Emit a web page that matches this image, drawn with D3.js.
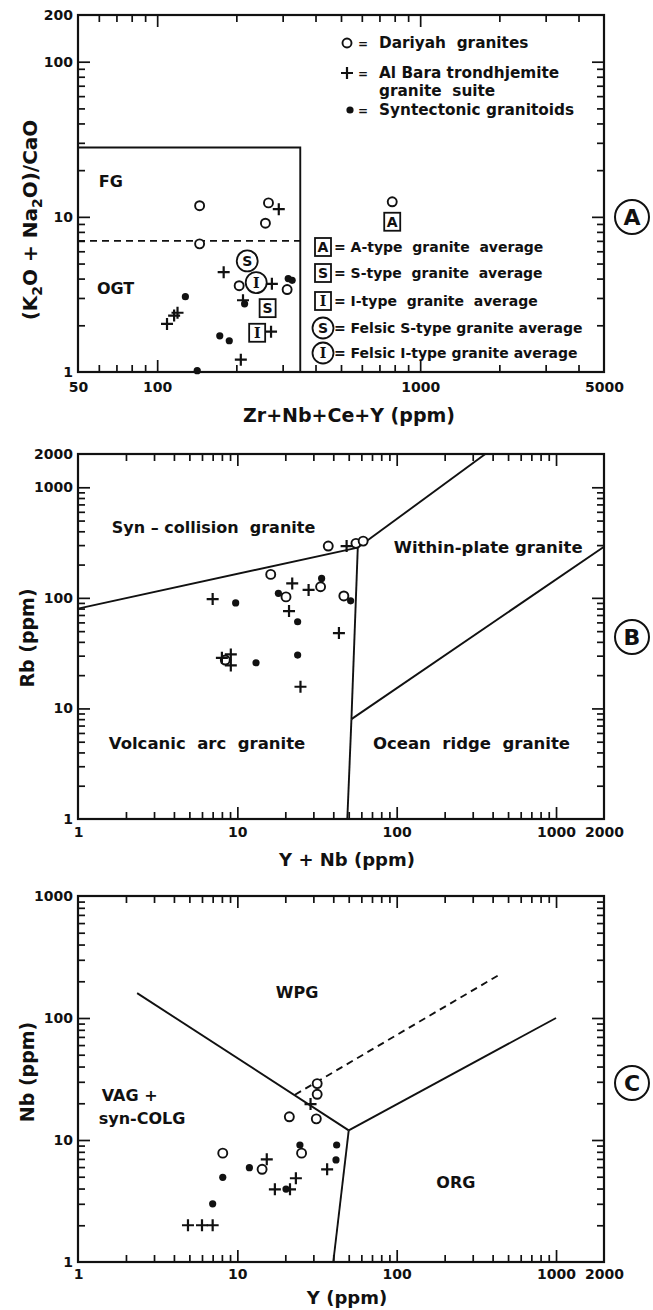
<!DOCTYPE html>
<html>
<head>
<meta charset="utf-8">
<script src="https://cdn.jsdelivr.net/npm/d3@7"></script>
<style>
  body { margin: 0; background: #fff; }
  svg { display: block; }
  text { font-family: "DejaVu Sans", sans-serif; font-weight: bold; fill: #111; }
</style>
</head>
<body>
<div id="chart"></div>
<script>
// ---- Panel A: (K2O+Na2O)/CaO vs Zr+Nb+Ce+Y (ppm) ----
const aDariyah = [[145, 11.8], [145, 6.7], [265, 12.3], [258, 9.1], [205, 3.6], [312, 3.4], [783, 12.5]];
const aAlBara = [[290, 11.2], [179, 4.4], [273, 3.7], [212, 2.9], [109, 2.04], [116, 2.31], [119.5, 2.41], [271, 1.82], [208, 1.2]];
const aSyntectonic = [[128, 3.06], [215, 2.75], [173, 1.71], [188, 1.59], [142, 1.02], [315, 4.0], [326, 3.9]];
const aAverages = [
  { letter: 'A', shape: 'box', x: 783, y: 9.3 },
  { letter: 'S', shape: 'ring', x: 220, y: 5.2 },
  { letter: 'I', shape: 'ring', x: 238, y: 3.77 },
  { letter: 'S', shape: 'box', x: 263, y: 2.58 },
  { letter: 'I', shape: 'box', x: 240, y: 1.79 }
];
const aFieldBox = [[50, 28], [350, 28], [350, 1]];
const aFgOgt = [[50, 7], [350, 7]];
const aXDomain = [50, 5000], aYDomain = [1, 200];
const aXLabels = [50, 100, 1000, 5000], aYLabels = [1, 10, 100, 200];

const legendSeries = ['Dariyah  granites', 'Al Bara trondhjemite|granite  suite', 'Syntectonic granitoids'];
const legendAverages = [
  { letter: 'A', shape: 'box', text: '= A-type  granite  average' },
  { letter: 'S', shape: 'box', text: '= S-type  granite  average' },
  { letter: 'I', shape: 'box', text: '= I-type  granite  average' },
  { letter: 'S', shape: 'ring', text: '= Felsic S-type granite average' },
  { letter: 'I', shape: 'ring', text: '= Felsic I-type granite average' }
];

// ---- Panel B: Rb vs Y+Nb (ppm) ----
const bDariyah = [[37.2, 294], [55.5, 311], [61.6, 326], [16.2, 163], [20.2, 102], [33.3, 126], [46.6, 104], [8.4, 27.4]];
const bAlBara = [[7.0, 97.5], [22.1, 135], [28, 118], [21.1, 76], [43.4, 48], [24.9, 15.7], [8.0, 28.7], [9.1, 30.8], [9.1, 24.5], [48.5, 294]];
const bSyntectonic = [[9.76, 90], [18.1, 110], [33.8, 150], [51.4, 94], [23.9, 60.8], [23.9, 30.4], [13.1, 25.9]];
const bLines = [
  [[1, 80], [57, 285]],
  [[57, 285], [52, 8]],
  [[52, 8], [49, 1]],
  [[57, 285], [360, 2000]],
  [[52, 8], [2000, 290]]
];
const bXDomain = [1, 2000], bYDomain = [1, 2000];
const bXLabels = [1, 10, 100, 1000, 2000], bYLabels = [1, 10, 100, 1000, 2000];

// ---- Panel C: Nb vs Y (ppm) ----
const cDariyah = [[31.7, 29], [31.7, 23.7], [31.3, 14.9], [21.2, 15.5], [8.1, 7.8], [14.3, 5.75], [25.3, 7.8]];
const cAlBara = [[28.8, 19.7], [15.3, 6.95], [23.3, 4.86], [36.6, 5.75], [17.2, 3.94], [21.4, 3.94], [4.9, 2.0], [6.0, 2.0], [7.0, 2.0]];
const cSyntectonic = [[7.0, 3.0], [8.1, 4.94], [11.9, 5.93], [24.7, 9.1], [42, 9.1], [41.6, 6.86], [20.2, 3.96]];
const cLines = [
  [[2.35, 160], [50, 12]],
  [[50, 12], [40, 1]],
  [[50, 12], [1000, 100]]
];
const cDashed = [[23, 23.5], [450, 230]];
const cXDomain = [1, 2000], cYDomain = [1, 1000];
const cXLabels = [1, 10, 100, 1000, 2000], cYLabels = [1, 10, 100, 1000];

const W = 653, H = 1310;
const X0 = 78, X1 = 604;
const INK = '#111';

const svg = d3.select('#chart').append('svg')
  .attr('width', W).attr('height', H)
  .attr('viewBox', `0 0 ${W} ${H}`);

// decades and 2..9 subdivisions inside a log domain
function decades(lo, hi) {
  const out = [];
  for (let e = Math.ceil(Math.log10(lo)); 10 ** e <= hi; e++) out.push(10 ** e);
  return out;
}
function minors(lo, hi) {
  const out = [];
  for (let e = Math.floor(Math.log10(lo)); 10 ** e <= hi; e++) {
    for (let k = 2; k <= 9; k++) {
      const v = k * 10 ** e;
      if (v > lo * 1.0001 && v < hi * 0.9999) out.push(v);
    }
  }
  return out;
}

function tickSide(g, axis, values, size, transform) {
  g.append('g').attr('transform', transform)
    .call(axis.tickValues(values).tickSizeInner(-size).tickSizeOuter(0).tickFormat(''))
    .call(s => s.select('.domain').remove())
    .selectAll('line').attr('stroke', INK).attr('stroke-width', 1.7);
}

function frame(g, x, y, xLabels, yLabels, labelPad) {
  const [xa, xb] = x.domain(), [ya, yb] = y.domain();
  const bottom = y(ya), top = y(yb), left = x(xa), right = x(xb);
  const xMaj = decades(xa, xb).filter(v => v > xa && v < xb);
  const yMaj = decades(ya, yb).filter(v => v > ya && v < yb);
  const xMin = minors(xa, xb), yMin = minors(ya, yb);

  [[xMaj, 12], [xMin, 7]].forEach(([vals, s]) => {
    tickSide(g, d3.axisBottom(x), vals, s, `translate(0,${bottom})`);
    tickSide(g, d3.axisTop(x), vals, s, `translate(0,${top})`);
  });
  [[yMaj, 12], [yMin, 7]].forEach(([vals, s]) => {
    tickSide(g, d3.axisLeft(y), vals, s, `translate(${left},0)`);
    tickSide(g, d3.axisRight(y), vals, s, `translate(${right},0)`);
  });

  g.append('rect')
    .attr('x', left).attr('y', top)
    .attr('width', right - left).attr('height', bottom - top)
    .attr('fill', 'none').attr('stroke', INK).attr('stroke-width', 2.2);

  g.append('g').attr('transform', `translate(0,${bottom})`)
    .call(d3.axisBottom(x).tickValues(xLabels).tickSize(0).tickPadding(labelPad).tickFormat(d3.format('d')))
    .call(s => s.select('.domain').remove())
    .attr('font-family', null).attr('font-size', 14);

  g.append('g').attr('transform', `translate(${left},0)`)
    .call(d3.axisLeft(y).tickValues(yLabels).tickSize(0).tickPadding(5).tickFormat(d3.format('d')))
    .call(s => s.select('.domain').remove())
    .attr('font-family', null).attr('font-size', 14);
}

function drawLines(g, x, y, lines, dashed) {
  const line = d3.line().x(d => x(d[0])).y(d => y(d[1]));
  g.selectAll(null).data(lines).join('path')
    .attr('d', line)
    .attr('fill', 'none').attr('stroke', INK).attr('stroke-width', 1.9)
    .attr('stroke-dasharray', dashed ? '7,5' : null);
}

function circles(g, pts, x, y) {
  g.selectAll(null).data(pts).join('circle')
    .attr('cx', d => x(d[0])).attr('cy', d => y(d[1])).attr('r', 4.5)
    .attr('fill', '#fff').attr('stroke', INK).attr('stroke-width', 1.9);
}
function dots(g, pts, x, y) {
  g.selectAll(null).data(pts).join('circle')
    .attr('cx', d => x(d[0])).attr('cy', d => y(d[1])).attr('r', 3.6)
    .attr('fill', INK);
}
function pluses(g, pts, x, y) {
  g.selectAll(null).data(pts).join('path')
    .attr('d', d => `M${x(d[0]) - 6},${y(d[1])}h12M${x(d[0])},${y(d[1]) - 6}v12`)
    .attr('stroke', INK).attr('stroke-width', 2.2).attr('fill', 'none');
}
function series(g, x, y, dar, alb, syn) {
  circles(g, dar, x, y);
  pluses(g, alb, x, y);
  dots(g, syn, x, y);
}

function averageMark(g, cx, cy, d) {
  const m = g.append('g').attr('transform', `translate(${cx},${cy})`);
  if (d.shape === 'box') {
    m.append('rect').attr('x', -8).attr('y', -9).attr('width', 16).attr('height', 18)
      .attr('fill', '#fff').attr('stroke', INK).attr('stroke-width', 1.8);
  } else {
    m.append('circle').attr('r', 10.5)
      .attr('fill', '#fff').attr('stroke', INK).attr('stroke-width', 1.8);
  }
  m.append('text').attr('text-anchor', 'middle').attr('dy', '0.36em')
    .attr('font-size', 14)
    .style('font-family', d.letter === 'I' ? '"DejaVu Serif", serif' : null)
    .text(d.letter);
}

function panelLetter(cx, cy, letter) {
  svg.append('circle').attr('cx', cx).attr('cy', cy).attr('r', 17)
    .attr('fill', 'none').attr('stroke', INK).attr('stroke-width', 2);
  svg.append('text').attr('x', cx).attr('y', cy).attr('dy', '0.36em')
    .attr('text-anchor', 'middle').attr('font-size', 22).text(letter);
}

function label(g, px, py, txt, size, anchor) {
  g.append('text').attr('x', px).attr('y', py)
    .attr('font-size', size).attr('text-anchor', anchor || 'start')
    .attr('xml:space', 'preserve').style('white-space', 'pre').text(txt);
}

// ---------- Panel A ----------
{
  const x = d3.scaleLog().domain(aXDomain).range([X0, X1]);
  const y = d3.scaleLog().domain(aYDomain).range([372, 15]);
  const g = svg.append('g');
  frame(g, x, y, aXLabels, aYLabels, 10);

  drawLines(g, x, y, [aFieldBox], false);
  drawLines(g, x, y, [aFgOgt], true);

  label(g, x(60), y(15.6), 'FG', 16);
  label(g, x(59), y(3.19), 'OGT', 16);

  series(g, x, y, aDariyah, aAlBara, aSyntectonic);
  aAverages.forEach(d => averageMark(g, x(d.x), y(d.y), d));

  // series legend
  const lg = g.append('g');
  const rows = [43, 73, 110];
  circles(lg, [[0, 0]], () => 347, () => rows[0]);
  pluses(lg, [[0, 0]], () => 347, () => rows[1]);
  dots(lg, [[0, 0]], () => 350, () => rows[2]);
  legendSeries.forEach((t, i) => {
    label(lg, 358, rows[i] + 5, '=', 12);
    t.split('|').forEach((part, j) => label(lg, 379, rows[i] + 5 + j * 18, part, 15.3));
  });

  // averages legend
  const ar = [247, 273, 301, 328, 353];
  legendAverages.forEach((d, i) => {
    averageMark(lg, 323, ar[i], d);
    label(lg, 334, ar[i] + 5, d.text, 14);
  });

  g.append('text').attr('transform', 'translate(37,220) rotate(-90)')
    .attr('text-anchor', 'middle').attr('font-size', 20)
    .call(t => {
      t.append('tspan').text('(K');
      t.append('tspan').attr('font-size', 14).attr('dy', 5).text('2');
      t.append('tspan').attr('dy', -5).text('O + Na');
      t.append('tspan').attr('font-size', 14).attr('dy', 5).text('2');
      t.append('tspan').attr('dy', -5).text('O)/CaO');
    });
  label(g, 349, 422, 'Zr+Nb+Ce+Y (ppm)', 19, 'middle');
  panelLetter(632, 217, 'A');
}

// ---------- Panel B ----------
{
  const x = d3.scaleLog().domain(bXDomain).range([X0, X1]);
  const y = d3.scaleLog().domain(bYDomain).range([819, 454]);
  const g = svg.append('g');
  frame(g, x, y, bXLabels, bYLabels, 8);
  drawLines(g, x, y, bLines, false);

  label(g, x(1.63), y(385), 'Syn – collision  granite', 16);
  label(g, x(96), y(254), 'Within-plate granite', 16.5);
  label(g, x(1.56), y(4.3), 'Volcanic  arc  granite', 16.5);
  label(g, x(71), y(4.3), 'Ocean  ridge  granite', 16.5);

  series(g, x, y, bDariyah, bAlBara, bSyntectonic);

  g.append('text').attr('transform', 'translate(34,638) rotate(-90)')
    .attr('text-anchor', 'middle').attr('font-size', 19).text('Rb (ppm)');
  label(g, 347, 866, 'Y + Nb (ppm)', 18, 'middle');
  panelLetter(632, 637, 'B');
}

// ---------- Panel C ----------
{
  const x = d3.scaleLog().domain(cXDomain).range([X0, X1]);
  const y = d3.scaleLog().domain(cYDomain).range([1262, 896]);
  const g = svg.append('g');
  frame(g, x, y, cXLabels, cYLabels, 7);
  drawLines(g, x, y, cLines, false);
  drawLines(g, x, y, [cDashed], true);

  label(g, x(23.7), y(146), 'WPG', 16, 'middle');
  label(g, x(1.41), y(20.9), 'VAG +', 16);
  label(g, x(1.35), y(13.5), 'syn-COLG', 16);
  label(g, x(235), y(4.04), 'ORG', 16, 'middle');

  series(g, x, y, cDariyah, cAlBara, cSyntectonic);

  g.append('text').attr('transform', 'translate(34,1072) rotate(-90)')
    .attr('text-anchor', 'middle').attr('font-size', 19).text('Nb (ppm)');
  label(g, 347, 1304, 'Y (ppm)', 18, 'middle');
  panelLetter(632, 1083, 'C');
}
</script>
</body>
</html>
